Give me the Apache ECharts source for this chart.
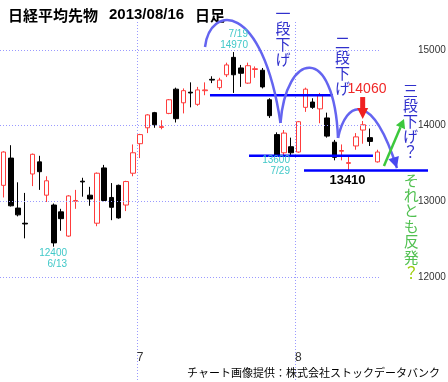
<!DOCTYPE html>
<html><head><meta charset="utf-8">
<script src="https://cdn.jsdelivr.net/npm/echarts@6/dist/echarts.min.js"></script>
<style>html,body{margin:0;padding:0;background:#fff}#c{width:448px;height:382px}</style>
</head><body><div id="c"></div>
<script>
// ---- data ----
const dates = ['6/4','6/5','6/6','6/7','6/10','6/11','6/12','6/13','6/14','6/17','6/18','6/19','6/20','6/21','6/24','6/25','6/26','6/27','6/28',
  '7/1','7/2','7/3','7/4','7/5','7/8','7/9','7/10','7/11','7/12','7/16','7/17','7/18','7/19','7/22','7/23','7/24','7/25','7/26','7/29','7/30','7/31',
  '8/1','8/2','8/5','8/6','8/7','8/8','8/9','8/12','8/13','8/14','8/15','8/16'];
const opens  = [13210,13570,12910,12710,13360,13520,13080,12950,12860,12540,13000,13265,13080,12710,13440,13050,13210,12950,13370,
  13760,13970,14170,13975,14160,14480,14300,14440,14280,14460,14610,14500,14670,14900,14760,14560,14740,14730,14340,13880,13640,13720,
  13650,14240,14310,14220,14100,13780,13660,13500,13730,13940,13840,13520];
const closes = [13650,12940,12820,12700,13620,13390,13270,12450,12770,13070,13010,13255,13030,13370,13010,12920,12780,13260,13640,
  13880,14140,14010,13985,14340,14090,14460,14430,14470,14470,14600,14600,14800,14670,14690,14790,14750,14510,14130,13610,13900,13640,
  14050,14480,14240,14400,13860,13580,13670,13510,13850,14010,13790,13650];
const lows   = [13050,12930,12800,12510,13200,13150,12990,12400,12610,12530,12900,13060,12940,12670,13000,12750,12770,12870,13330,
  13570,13900,13970,13950,14150,14040,14160,14240,14260,14400,14560,14470,14640,14430,14510,14550,14630,14490,14100,13600,13610,13610,
  13640,14180,14220,14030,13840,13540,13540,13410,13680,13760,13730,13510];
const highs  = [13660,13740,13250,13110,13630,13600,13330,12970,12900,13080,13150,13310,13190,13380,13480,13240,13220,13270,13750,
  13890,14150,14180,14070,14350,14500,14490,14570,14510,14570,14650,14630,14830,14970,14800,14830,14780,14760,14360,13910,13940,13840,
  14060,14500,14360,14430,14170,13810,13750,13600,13900,14060,13960,13680];
const yGridValues = [12000, 13000, 14000, 15000];
const yMin = 10613, yMax = 15367;

// ---- annotations (x = trading-day index, y = price) ----
const arcs = [
  [[28.02,15037],[28.71,15592],[35.95,15658],[38.52,14033]],
  [[38.52,14033],[39.28,14971],[45.96,15103],[46.52,13835]],
  [[46.52,13835],[47.63,14337],[51.25,14469],[54.72,13438]]
];
const levelLines = [
  {price:14400, from:28.71, to:45.82},
  {price:13600, from:34.14, to:51.38},
  {price:13405, from:41.79, to:59.04}
];
const noteBlocks = [
  {text:'7/19\n14970', x:33.99, y:15129},
  {text:'13600\n7/29', x:39.84, y:13465},
  {text:'12400\n6/13', x:8.82, y:12243}
];
const redArrow = {x:49.95, top:14376, tip:14086};
const greenArrow = {from:[52.91,13465], to:[55.70,14086]};
const stepTexts = [
  {text:'一段下げ', x:38.87, y:15176},
  {text:'二段下げ', x:47.14, y:14795},
  {text:'三段下げ？', x:56.6, y:14062}
];
const reboundText = {text:'それとも反発', x:56.7, y:12672};
const label14060 = {text:'14060', x:50.55, y:14482};
const label13410 = {text:'13410', x:47.84, y:13280};

const candleData = dates.map((d,i)=>[opens[i], closes[i], lows[i], highs[i]]);
const CJK = '"Noto Sans CJK JP"';
const NUM = '"Liberation Sans", Arial';
const gridColor = '#9a9aff';

const chart = echarts.init(document.getElementById('c'), null, {renderer:'canvas'});
chart.setOption({
  animation:false,
  backgroundColor:'#ffffff',
  title:{text:'{a|日経平均先物}{s| }{b|2013/08/16}{s| }{a|日足}', left:3, top:0,
    textStyle:{rich:{
      a:{fontSize:15, fontWeight:'bold', fontFamily:CJK, color:'#000', lineHeight:20},
      b:{fontSize:15, fontWeight:'bold', fontFamily:NUM, color:'#000', lineHeight:20},
      s:{width:11, lineHeight:20}
    }, fontSize:15, fontWeight:'bold', fontFamily:CJK, color:'#000'}},
  grid:{left:0, right:67, top:22, bottom:0},
  xAxis:[
    {type:'category', data:dates, boundaryGap:true,
     axisLine:{show:false}, axisTick:{show:false},
     axisLabel:{inside:true, interval:0, margin:18, color:'#333', fontSize:12, fontFamily:NUM,
       formatter:v=>{const p=v.split('/'); return p[1]==='1'?p[0]:'';}},
     splitLine:{show:false}},
    {type:'value', min:-0.5, max:dates.length-0.5, show:false}
  ],
  yAxis:{type:'value', position:'right', min:yMin, max:yMax,
    axisLine:{show:false}, axisTick:{show:false}, axisLabel:{show:false}, splitLine:{show:false}},
  series:[{
    type:'candlestick', data:candleData, barWidth:5, xAxisIndex:0, z:3,
    itemStyle:{color:'#ffffff', color0:'#000000', borderColor:'#ff3c3c', borderColor0:'#000000', borderWidth:1},
    markLine:{silent:true, symbol:['none','none'], animation:false,
      lineStyle:{color:gridColor, width:1, type:[1,2]},
      label:{show:true, position:'end', distance:37, formatter:'{c}', color:'#333', fontSize:10, fontFamily:NUM},
      emphasis:{disabled:true},
      data:yGridValues.map(v=>({yAxis:v}))}
  },{
    type:'scatter', xAxisIndex:1, data:[], silent:true
  }]
});

function P(pt){ return chart.convertToPixel({xAxisIndex:1, yAxisIndex:0}, pt); }
const g = [];
// month boundary grid lines
dates.forEach((d,i)=>{
  if(d.split('/')[1]==='1'){
    const a=P([i-0.5,yMax]), b=P([i-0.5,yMin]);
    const x=Math.round(a[0])+0.5;
    g.push({type:'line', z:0, silent:true, shape:{x1:x,y1:a[1],x2:x,y2:b[1]}, style:{stroke:gridColor, lineWidth:1, lineDash:[1,2]}});
  }
});
const arcColor = '#6464f0';
arcs.forEach((a,k)=>{
  const p0=P(a[0]), p1=P(a[1]), p2=P(a[2]), p3=P(a[3]);
  g.push({type:'bezierCurve', z:10, shape:{x1:p0[0],y1:p0[1],cpx1:p1[0],cpy1:p1[1],cpx2:p2[0],cpy2:p2[1],x2:p3[0],y2:p3[1]},
    style:{stroke:arcColor, lineWidth:2.5, fill:null}});
  if(k===arcs.length-1){
    let dx=p3[0]-p2[0], dy=p3[1]-p2[1]; const L=Math.hypot(dx,dy); dx/=L; dy/=L;
    const bx=p3[0]-dx*11, by=p3[1]-dy*11;
    g.push({type:'polygon', z:11, shape:{points:[[p3[0],p3[1]],[bx-dy*5.5,by+dx*5.5],[bx+dy*5.5,by-dx*5.5]]}, style:{fill:'#4848f0'}});
  }
});
levelLines.forEach(l=>{
  const a=P([l.from,l.price]), b=P([l.to,l.price]);
  g.push({type:'line', z:9, shape:{x1:a[0],y1:a[1],x2:b[0],y2:b[1]}, style:{stroke:'#0000ff', lineWidth:2.5}});
});
noteBlocks.forEach(n=>{
  const p=P([n.x,n.y]);
  g.push({type:'text', z:12, x:p[0], y:p[1], style:{text:n.text, fill:'#40c8c8', fontSize:10, fontFamily:NUM,
    align:'right', verticalAlign:'middle', lineHeight:11}});
});
{
  const t=P([redArrow.x,redArrow.tip]), s=P([redArrow.x,redArrow.top]);
  const headTop=t[1]-11;
  g.push({type:'rect', z:12, shape:{x:t[0]-2.5, y:s[1], width:5, height:headTop-s[1]+0.5}, style:{fill:'#f02020'}});
  g.push({type:'polygon', z:12, shape:{points:[[t[0]-5.5,headTop],[t[0]+5.5,headTop],[t[0],t[1]]]}, style:{fill:'#f02020'}});
}
{
  const a=P(greenArrow.from), b=P(greenArrow.to);
  let dx=b[0]-a[0], dy=b[1]-a[1]; const L=Math.hypot(dx,dy); dx/=L; dy/=L;
  const bx=b[0]-dx*9, by=b[1]-dy*9;
  g.push({type:'line', z:12, shape:{x1:a[0],y1:a[1],x2:bx,y2:by}, style:{stroke:'#3cc83c', lineWidth:2.5}});
  g.push({type:'polygon', z:12, shape:{points:[[b[0],b[1]],[bx-dy*5,by+dx*5],[bx+dy*5,by-dx*5]]}, style:{fill:'#3cc83c'}});
}
stepTexts.forEach(s=>{
  const p=P([s.x,s.y]);
  g.push({type:'text', z:12, x:p[0], y:p[1], style:{text:s.text.split('').join('\n'), fill:'#3030cc', fontSize:15, fontFamily:CJK,
    align:'center', verticalAlign:'middle', lineHeight:15.4}});
});
{
  const p=P([reboundText.x,reboundText.y]);
  g.push({type:'text', z:12, x:p[0], y:p[1], style:{text:reboundText.text.split('').join('\n')+'\n{q|？}', fill:'#50c050', fontSize:15, fontFamily:CJK,
    align:'center', verticalAlign:'middle', lineHeight:15.4, rich:{q:{fill:'#99cc00', fontSize:15, fontFamily:CJK, lineHeight:15.4}}}});
}
{
  const p=P([label14060.x,label14060.y]);
  g.push({type:'text', z:12, x:p[0], y:p[1], style:{text:label14060.text, fill:'#f02828', fontSize:14, fontFamily:NUM, align:'center', verticalAlign:'middle'}});
  const q=P([label13410.x,label13410.y]);
  g.push({type:'text', z:12, x:q[0], y:q[1], style:{text:label13410.text, fill:'#000', fontSize:13, fontWeight:'bold', fontFamily:NUM, align:'center', verticalAlign:'middle'}});
}
g.push({type:'text', z:12, right:8, bottom:4, style:{text:'チャート画像提供：株式会社ストックデータバンク', fill:'#000', fontSize:11, fontFamily:CJK}});
chart.setOption({graphic:{elements:g}});
</script></body></html>
